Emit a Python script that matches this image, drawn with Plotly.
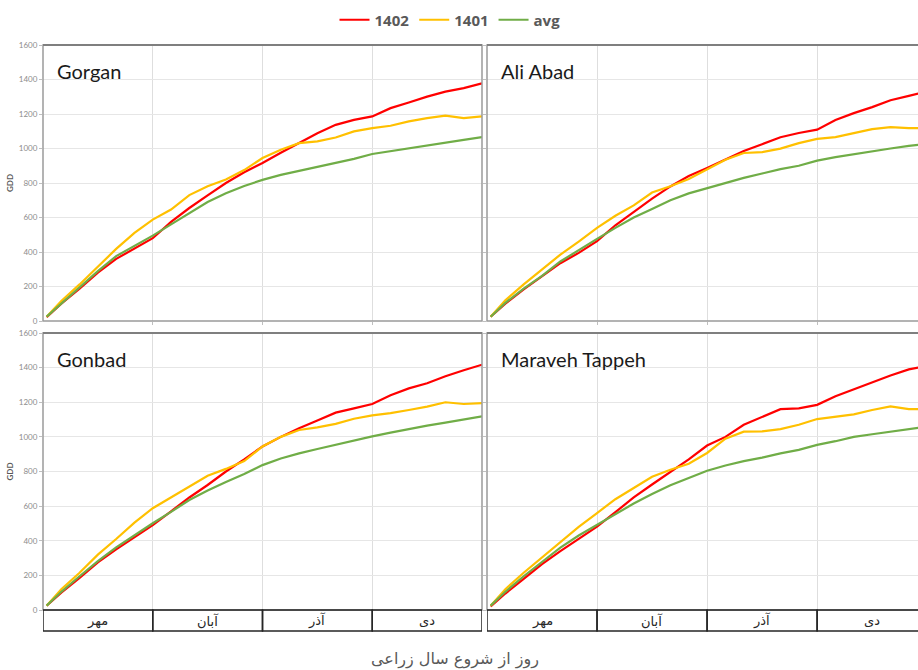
import plotly.graph_objects as go

# ---------------- data ----------------
days = [1, 5, 10, 15, 20, 25, 30, 35, 40, 45, 50, 55, 60, 65, 70, 75, 80, 85, 90, 95, 100, 105, 110, 115, 120]

stations = ["Gorgan", "Ali Abad", "Gonbad", "Maraveh Tappeh"]
series_names = ["1402", "1401", "avg"]

gorgan_1402 = [22, 100, 188, 280, 360, 418, 480, 575, 655, 728, 800, 862, 916, 975, 1030, 1088, 1137, 1166, 1186, 1234, 1267, 1301, 1330, 1350, 1378]
gorgan_1401 = [25, 116, 212, 312, 418, 511, 588, 646, 730, 781, 820, 875, 945, 993, 1031, 1041, 1064, 1099, 1118, 1132, 1157, 1176, 1190, 1176, 1186]
gorgan_avg = [25, 102, 193, 289, 376, 434, 495, 560, 625, 690, 740, 783, 818, 847, 870, 893, 915, 940, 968, 985, 1003, 1020, 1035, 1050, 1066]

aliabad_1402 = [25, 100, 183, 258, 335, 395, 463, 555, 635, 710, 780, 840, 887, 935, 985, 1025, 1065, 1090, 1109, 1165, 1205, 1240, 1280, 1305, 1330]
aliabad_1401 = [25, 120, 212, 300, 385, 460, 540, 610, 670, 745, 781, 823, 880, 935, 974, 979, 999, 1031, 1056, 1066, 1089, 1112, 1124, 1118, 1118]
aliabad_avg = [25, 105, 188, 262, 345, 413, 476, 540, 600, 650, 700, 740, 771, 800, 830, 855, 880, 900, 930, 950, 968, 985, 1000, 1015, 1028]

gonbad_1402 = [25, 100, 185, 275, 350, 420, 490, 570, 650, 722, 800, 870, 945, 1000, 1050, 1095, 1140, 1165, 1190, 1240, 1280, 1310, 1350, 1385, 1417]
gonbad_1401 = [25, 120, 215, 320, 410, 505, 588, 650, 710, 775, 815, 860, 945, 1000, 1040, 1055, 1075, 1105, 1124, 1137, 1155, 1175, 1200, 1190, 1195]
gonbad_avg = [25, 105, 195, 282, 362, 433, 501, 567, 635, 690, 740, 785, 837, 875, 905, 930, 955, 980, 1003, 1025, 1047, 1065, 1082, 1100, 1118]

maraveh_1402 = [20, 95, 180, 265, 340, 410, 482, 565, 650, 725, 795, 870, 950, 1000, 1070, 1115, 1160, 1165, 1185, 1235, 1275, 1315, 1355, 1390, 1410]
maraveh_1401 = [25, 120, 215, 305, 395, 480, 560, 640, 705, 770, 810, 845, 907, 990, 1030, 1032, 1045, 1070, 1103, 1115, 1130, 1155, 1176, 1160, 1160]
maraveh_avg = [25, 105, 195, 280, 360, 430, 492, 555, 615, 670, 720, 763, 804, 835, 860, 880, 905, 925, 954, 975, 1000, 1015, 1030, 1045, 1060]

station_data = [
    [gorgan_1402, gorgan_1401, gorgan_avg],
    [aliabad_1402, aliabad_1401, aliabad_avg],
    [gonbad_1402, gonbad_1401, gonbad_avg],
    [maraveh_1402, maraveh_1401, maraveh_avg],
]

months = ["مهر", "آبان", "آذر", "دی"]
month_days = [30, 30, 30, 30]
y_ticks = [0, 200, 400, 600, 800, 1000, 1200, 1400, 1600]
x_title = "روز از شروع سال زراعی"
y_title = "GDD"

# ---------------- style ----------------
W, H = 918, 670
colors = ["#FF0000", "#FFC000", "#70AD47"]

def px_x(p):
    return p / W

def px_y(p):
    return 1 - p / H

# panel pixel boxes in window coordinates: (left, right), (top, bottom)
col_x = [(43, 482), (487, 918)]
row_y = [(45, 321), (333, 610)]
x_ranges = [[0, 120], [0, 117.5]]

fig = go.Figure()

month_edges = [0]
for m in month_days:
    month_edges.append(month_edges[-1] + m)

for i, name in enumerate(stations):
    r, c = divmod(i, 2)
    ax = "" if i == 0 else str(i + 1)
    xa, ya = "x" + ax, "y" + ax
    for k in range(3):
        fig.add_trace(go.Scatter(
            x=days, y=station_data[i][k], mode="lines",
            name=series_names[k], legendgroup=series_names[k],
            showlegend=(i == 0),
            line=dict(color=colors[k], width=2.2),
            xaxis=xa, yaxis=ya,
        ))
    xl, xr = col_x[c]
    yt, yb = row_y[r]
    fig.update_layout(**{
        "xaxis" + ax: dict(
            domain=[px_x(xl), min(1.0, px_x(xr))], range=x_ranges[c],
            anchor=ya, tickvals=month_edges[1:-1], showticklabels=False,
            showgrid=True, gridcolor="#dedede", gridwidth=1,
            zeroline=False, showline=False, automargin=False,
            ticks="outside" if r == 0 else "", ticklen=3, tickcolor="#bfbfbf",
        ),
        "yaxis" + ax: dict(
            domain=[px_y(yb), px_y(yt)], range=[0, 1600],
            anchor=xa, tickvals=y_ticks, showticklabels=(c == 0),
            tickfont=dict(size=8, color="#8c8c8c", family="Lato"),
            showgrid=True, gridcolor="#e6e6e6", gridwidth=1,
            zeroline=False, showline=False, automargin=False,
            ticks="outside", ticklen=3, tickcolor="#bfbfbf",
            title=dict(text=y_title if c == 0 else "",
                       font=dict(size=8, color="#595959", family="Lato", weight="bold"),
                       standoff=4),
        ),
    })
    # panel border
    fig.add_shape(type="rect", xref=xa + " domain", yref=ya + " domain",
                  x0=0, x1=1 if c == 0 else 1.05, y0=0, y1=1,
                  line=dict(color="#9a9a9a", width=1.5), layer="above")
    fig.add_shape(type="line", xref=xa + " domain", yref=ya + " domain",
                  x0=0, x1=1 if c == 0 else 1.05, y0=1, y1=1,
                  line=dict(color="#7f7f7f", width=2), layer="above")
    # station title
    fig.add_annotation(text=name, xref=xa + " domain", yref=ya + " domain",
                       x=0.027, y=0.955, xanchor="left", yanchor="top",
                       showarrow=False,
                       font=dict(size=20, color="#1a1a1a", family="Lato"))
    # month table under bottom panels
    if r == 1:
        for j, mname in enumerate(months):
            x0, x1 = month_edges[j], month_edges[j + 1]
            fig.add_shape(type="rect", xref=xa, yref="paper",
                          x0=x0, x1=x1, y0=px_y(631), y1=px_y(610),
                          line=dict(color="#262626", width=1.5), layer="above")
            fig.add_annotation(text=mname, xref=xa, yref="paper",
                               x=(x0 + x1) / 2, y=px_y(620.5),
                               showarrow=False, yanchor="middle",
                               font=dict(size=13, color="#262626", family="DejaVu Sans"))

fig.add_annotation(text=x_title, xref="paper", yref="paper",
                   x=px_x(455), y=px_y(659), showarrow=False, yanchor="middle",
                   font=dict(size=16, color="#595959", family="DejaVu Sans"))

fig.update_layout(
    width=W, height=H,
    margin=dict(l=0, r=0, t=0, b=0, autoexpand=False),
    paper_bgcolor="white", plot_bgcolor="white",
    showlegend=True,
    legend=dict(orientation="h", x=px_x(450), xanchor="center",
                y=px_y(20), yanchor="middle",
                font=dict(size=15, color="#595959", family="Open Sans", weight="bold"),
                itemwidth=30, tracegroupgap=0, bgcolor="rgba(0,0,0,0)"),
)

fig.write_html("out.html",
               config={"displayModeBar": False},
               post_script="document.body.style.margin='0';document.body.style.overflow='hidden';")
